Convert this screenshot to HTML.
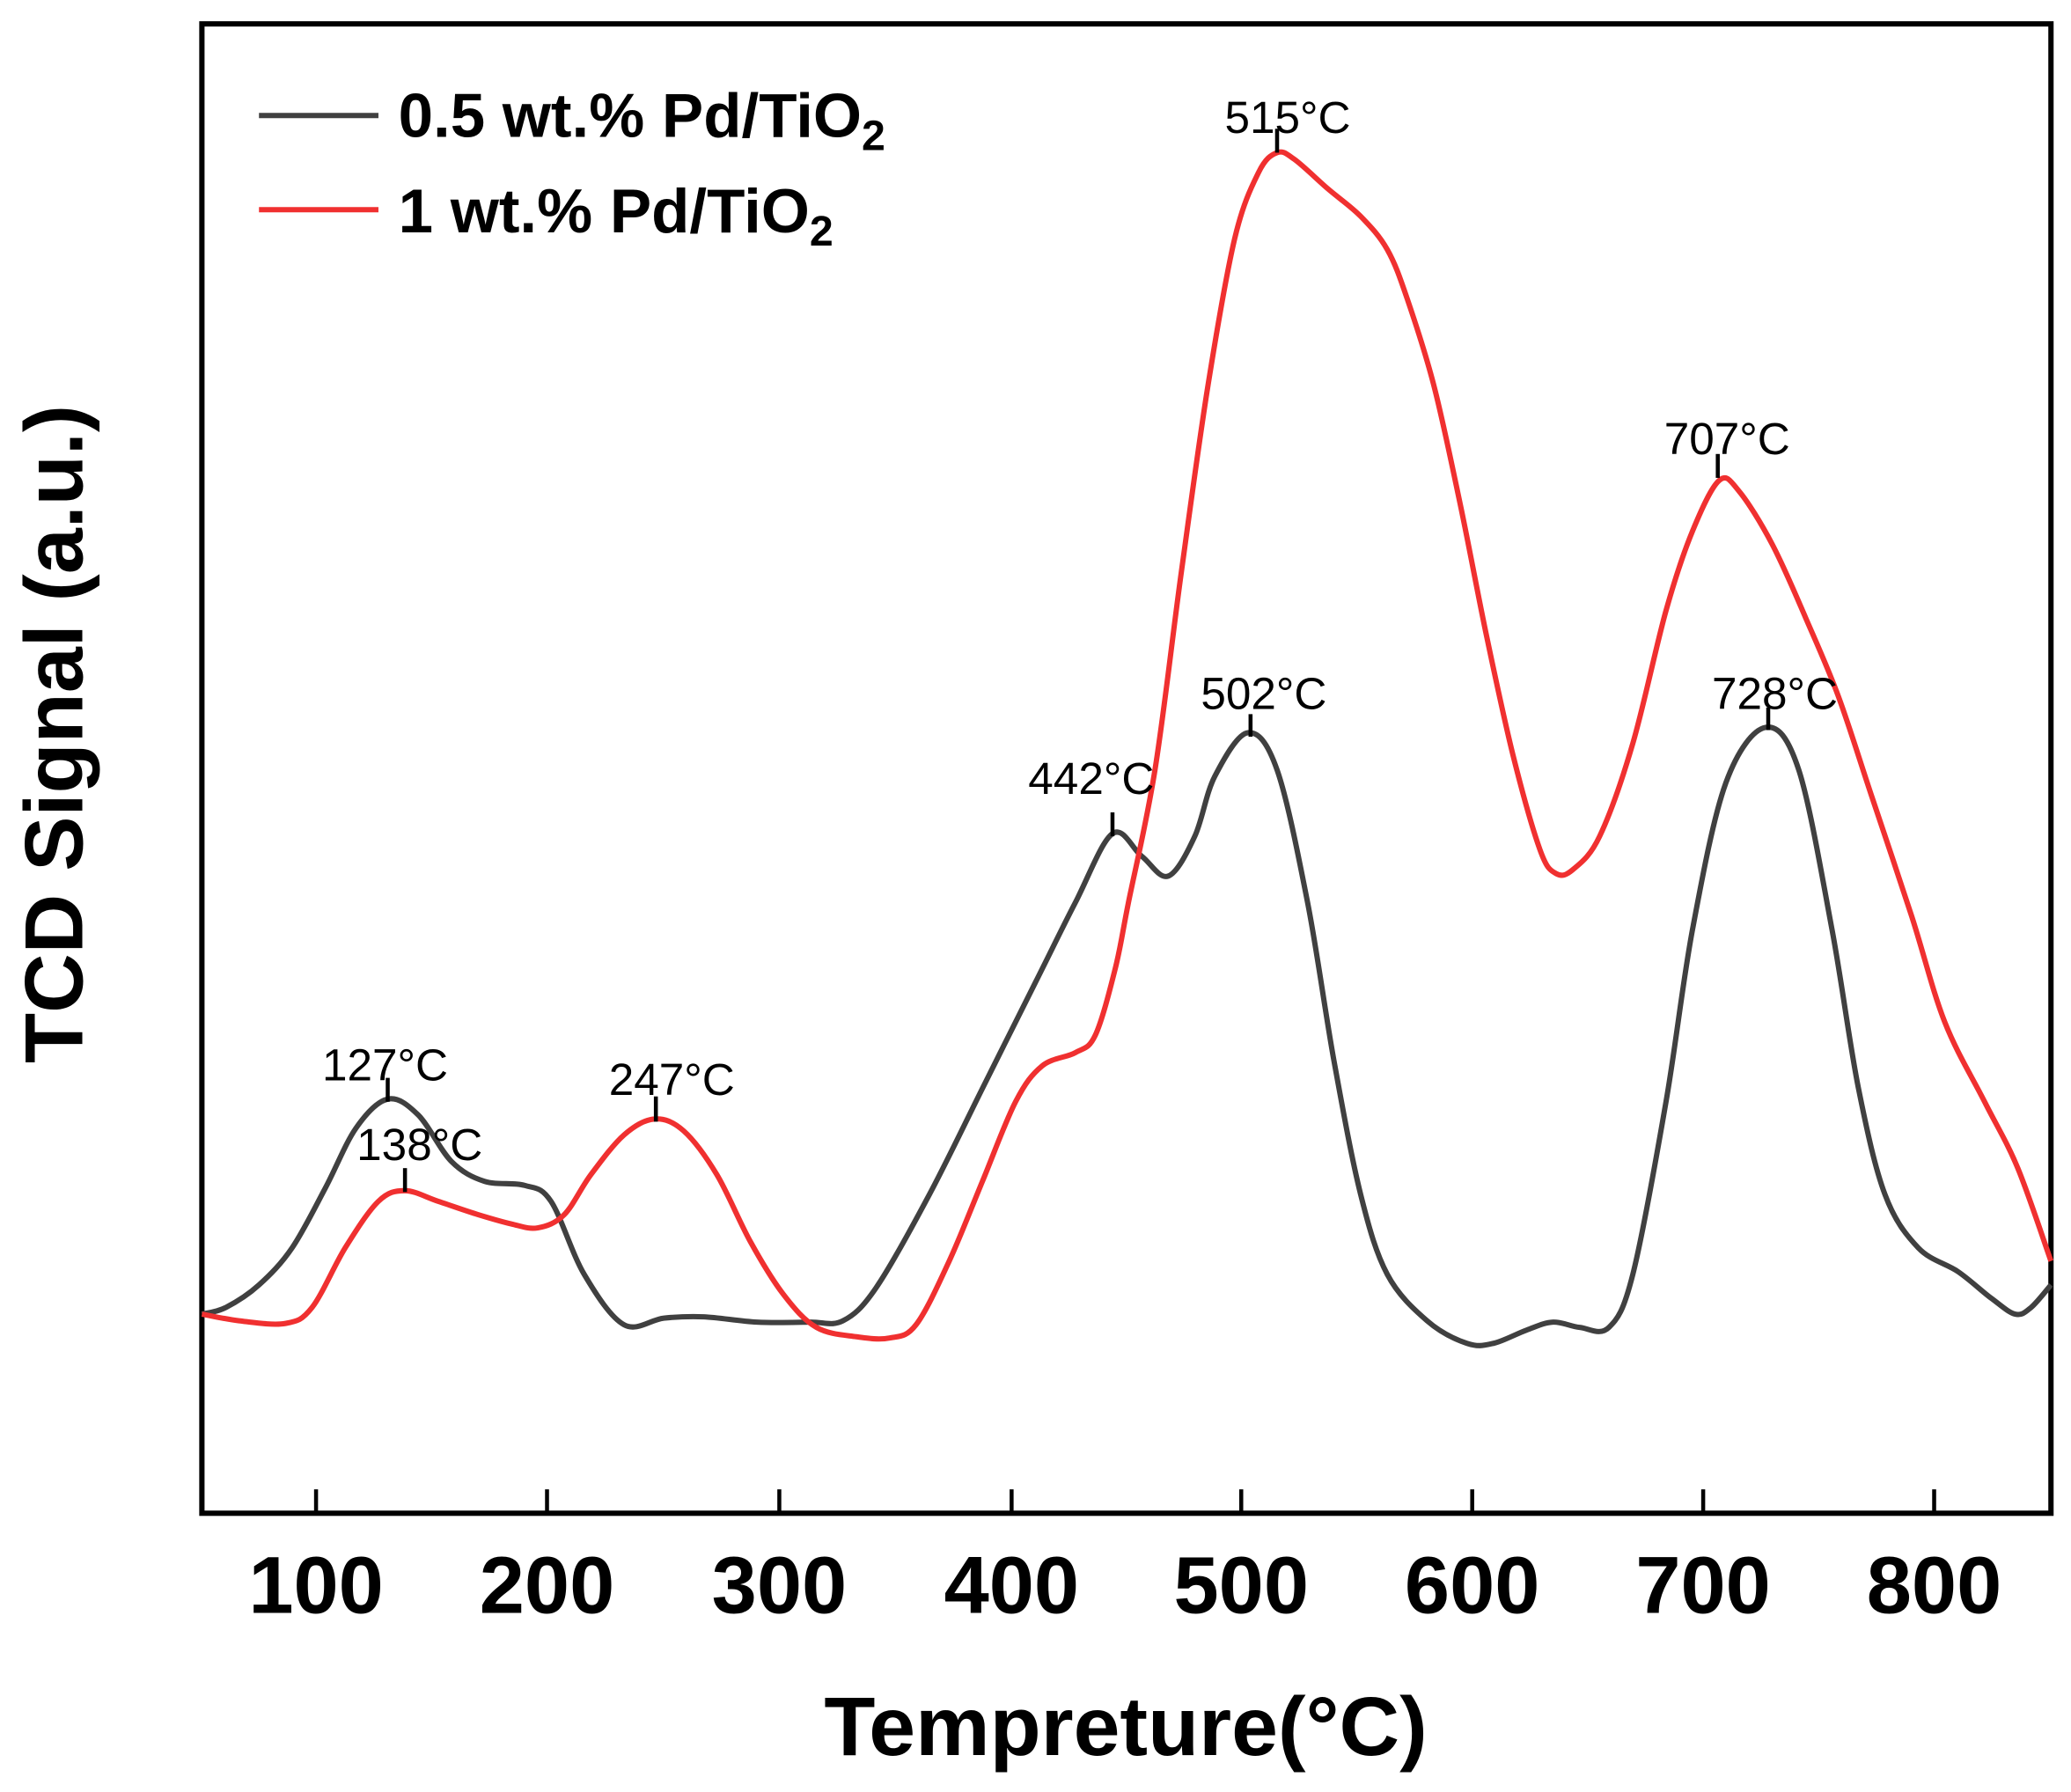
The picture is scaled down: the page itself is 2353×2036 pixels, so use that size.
<!DOCTYPE html>
<html><head><meta charset="utf-8"><style>html,body{margin:0;padding:0;background:#fff}svg{display:block}</style></head>
<body>
<svg width="2353" height="2036" viewBox="0 0 1560 1350" xmlns="http://www.w3.org/2000/svg" font-family="Liberation Sans, Arial, sans-serif">
<rect x="152" y="18" width="1393" height="1122" fill="none" stroke="#000" stroke-width="4"/>
<g stroke="#000" stroke-width="3">
<line x1="238" y1="1140" x2="238" y2="1122"/><line x1="412" y1="1140" x2="412" y2="1122"/><line x1="587" y1="1140" x2="587" y2="1122"/><line x1="762" y1="1140" x2="762" y2="1122"/><line x1="935" y1="1140" x2="935" y2="1122"/><line x1="1109" y1="1140" x2="1109" y2="1122"/><line x1="1283" y1="1140" x2="1283" y2="1122"/><line x1="1457" y1="1140" x2="1457" y2="1122"/>
</g>
<g font-size="61" font-weight="bold" text-anchor="middle">
<text x="238" y="1215">100</text><text x="412" y="1215">200</text><text x="587" y="1215">300</text><text x="762" y="1215">400</text><text x="935" y="1215">500</text><text x="1109" y="1215">600</text><text x="1283" y="1215">700</text><text x="1457" y="1215">800</text>
</g>
<text x="848" y="1322" font-size="63" font-weight="bold" text-anchor="middle">Tempreture(°C)</text>
<text transform="translate(62,553) rotate(-90)" font-size="62" font-weight="bold" text-anchor="middle">TCD Signal (a.u.)</text>
<path id="pb" fill="none" stroke="#404040" stroke-width="4" stroke-linejoin="round"/>
<path id="pr" fill="none" stroke="#f03030" stroke-width="4" stroke-linejoin="round"/>
<g stroke="#000" stroke-width="3">
<line x1="962" y1="97" x2="962" y2="115"/><line x1="292" y1="812" x2="292" y2="830"/><line x1="305" y1="880" x2="305" y2="898"/><line x1="494" y1="826" x2="494" y2="845"/><line x1="838" y1="612" x2="838" y2="630"/><line x1="942" y1="538" x2="942" y2="555"/><line x1="1294" y1="342" x2="1294" y2="360"/><line x1="1332" y1="533" x2="1332" y2="550"/>
</g>
<g font-size="34" text-anchor="middle">
<text x="970" y="100">515°C</text><text x="290" y="814">127°C</text><text x="316" y="874">138°C</text><text x="506" y="825">247°C</text><text x="822" y="598">442°C</text><text x="952" y="534">502°C</text><text x="1301" y="342">707°C</text><text x="1337" y="534">728°C</text>
</g>
<line x1="195" y1="87" x2="285" y2="87" stroke="#404040" stroke-width="4"/>
<line x1="195" y1="158" x2="285" y2="158" stroke="#f03030" stroke-width="4"/>
<text x="300" y="103" font-size="47" font-weight="bold">0.5 wt.% Pd/TiO<tspan font-size="32" dy="10">2</tspan></text>
<text x="300" y="175" font-size="47" font-weight="bold">1 wt.% Pd/TiO<tspan font-size="32" dy="10">2</tspan></text>
</svg>
<script>
function sm(s){var p=s.trim().split(/\s+/).map(function(t){return t.split(',').map(Number)});
var d='M'+p[0][0]+','+p[0][1];
for(var i=0;i<p.length-1;i++){var a=p[i-1]||p[i],b=p[i],c=p[i+1],e=p[i+2]||c;
d+=' C'+(b[0]+(c[0]-a[0])/6).toFixed(1)+','+(b[1]+(c[1]-a[1])/6).toFixed(1)+' '+(c[0]-(e[0]-b[0])/6).toFixed(1)+','+(c[1]-(e[1]-b[1])/6).toFixed(1)+' '+c[0]+','+c[1];}
return d;}
document.getElementById('pb').setAttribute('d',sm("152,990 170,985 195,968 220,940 245,895 268,850 292,828 315,840 340,875 365,890 395,893 415,905 440,960 470,998 500,993 530,992 570,996 610,996 635,995 660,970 700,900 740,820 780,740 810,680 838,628 860,645 880,660 900,630 915,585 940,552 962,580 985,680 1005,800 1025,900 1045,960 1075,995 1105,1012 1125,1012 1150,1002 1170,996 1190,1000 1212,1000 1230,960 1255,830 1275,700 1300,590 1330,548 1355,580 1380,700 1400,820 1420,900 1445,940 1475,958 1500,978 1518,990 1530,985 1545,968"));
document.getElementById('pr').setAttribute('d',sm("152,990 180,995 215,997 235,985 260,940 285,905 305,897 330,905 360,915 385,922 405,925 425,915 445,885 470,855 493,843 515,852 540,885 565,935 590,975 615,1000 645,1007 670,1008 690,998 715,950 740,890 765,830 785,803 810,793 825,780 840,730 850,680 870,580 890,430 910,290 930,180 948,130 962,115 975,120 1000,142 1025,163 1045,188 1060,225 1080,290 1100,380 1120,480 1140,570 1160,640 1172,658 1185,655 1205,630 1230,560 1255,460 1275,400 1295,362 1310,370 1335,410 1360,465 1385,525 1410,600 1440,690 1465,770 1495,830 1520,880 1545,950"));
</script>
</body></html>
